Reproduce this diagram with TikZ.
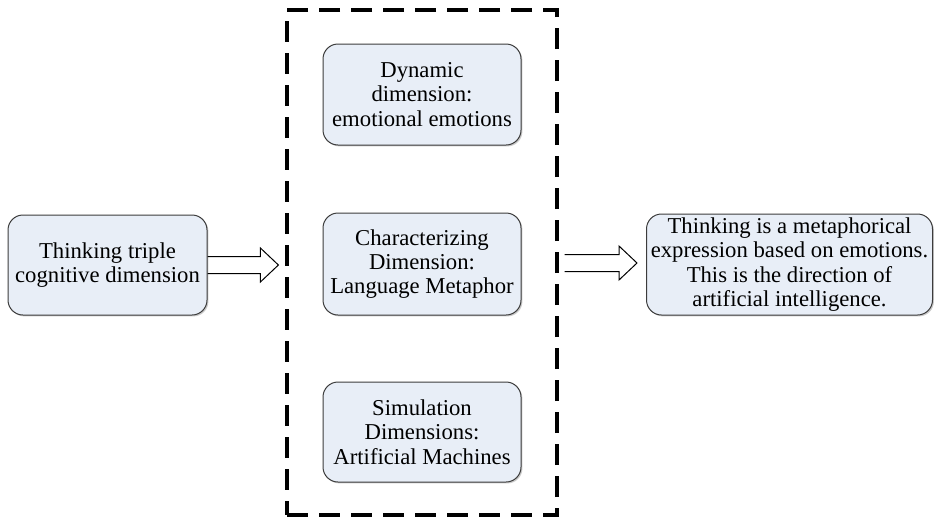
\documentclass[tikz,border=0pt]{standalone}
\usepackage{fontspec}
\setmainfont{Liberation Serif}
\usetikzlibrary{calc,shadows}
\definecolor{boxfill}{RGB}{232,238,247}
\definecolor{boxline}{RGB}{60,60,60}
\newcommand{\hollowarrow}[2]{\draw[arrowline] ($(#1)+(0,-8.5)$) -- ($(#2)+(-18,-8.5)$) -- ($(#2)+(-18,-17)$) -- (#2) -- ($(#2)+(-18,17)$) -- ($(#2)+(-18,8.5)$) -- ($(#1)+(0,8.5)$);}

\begin{document}
\begin{tikzpicture}[x=0.5pt,y=-0.5pt]
      \tikzstyle{dimbox}=[rectangle,rounded corners=7.5pt,draw=boxline,line width=0.5pt,fill=boxfill,
        drop shadow={shadow xshift=0.7pt,shadow yshift=-0.7pt,fill=gray!70,opacity=0.6},
        align=center,inner sep=0pt,font=\fontsize{11.35pt}{12.15pt}\selectfont]
      \tikzstyle{arrowline}=[draw=black,line width=0.5pt,line join=miter]
      \useasboundingbox (0,0) rectangle (935,520);
      % dashed frame round the three dimensions
      \node[draw,dash pattern=on 10.5pt off 5.5pt,line width=1.6pt,minimum width=135pt,minimum height=252.5pt,inner sep=0pt] (frame) at (422,262.5) {};
      \node[dimbox,minimum width=99.5pt,minimum height=50pt] (think) at (107.5,265) {Thinking triple\\cognitive dimension};
      \node[dimbox,minimum width=99pt,minimum height=50.5pt] (dynamic) at (422,94.5) {Dynamic\\dimension:\\emotional emotions};
      \node[dimbox,minimum width=99pt,minimum height=51pt] (character) at (422,264) {Characterizing\\Dimension:\\Language Metaphor};
      \node[dimbox,minimum width=99pt,minimum height=50pt] (simulation) at (422,432) {Simulation\\Dimensions:\\Artificial Machines};
      \node[dimbox,minimum width=143pt,minimum height=50.5pt] (result) at (789.5,264.5) {Thinking is a metaphorical\\expression based on emotions.\\This is the direction of\\artificial intelligence.};
      % arrows
      \coordinate (intip) at ($(frame.west |- think.east)+(-7,0)$);
      \coordinate (outstart) at ($(frame.east |- result.west)+(6,-1.5)$);
      \coordinate (outtip) at ($(result.west)+(-9,-1.5)$);
      \hollowarrow{think.east}{intip}
      \hollowarrow{outstart}{outtip}
\end{tikzpicture}
\end{document}
